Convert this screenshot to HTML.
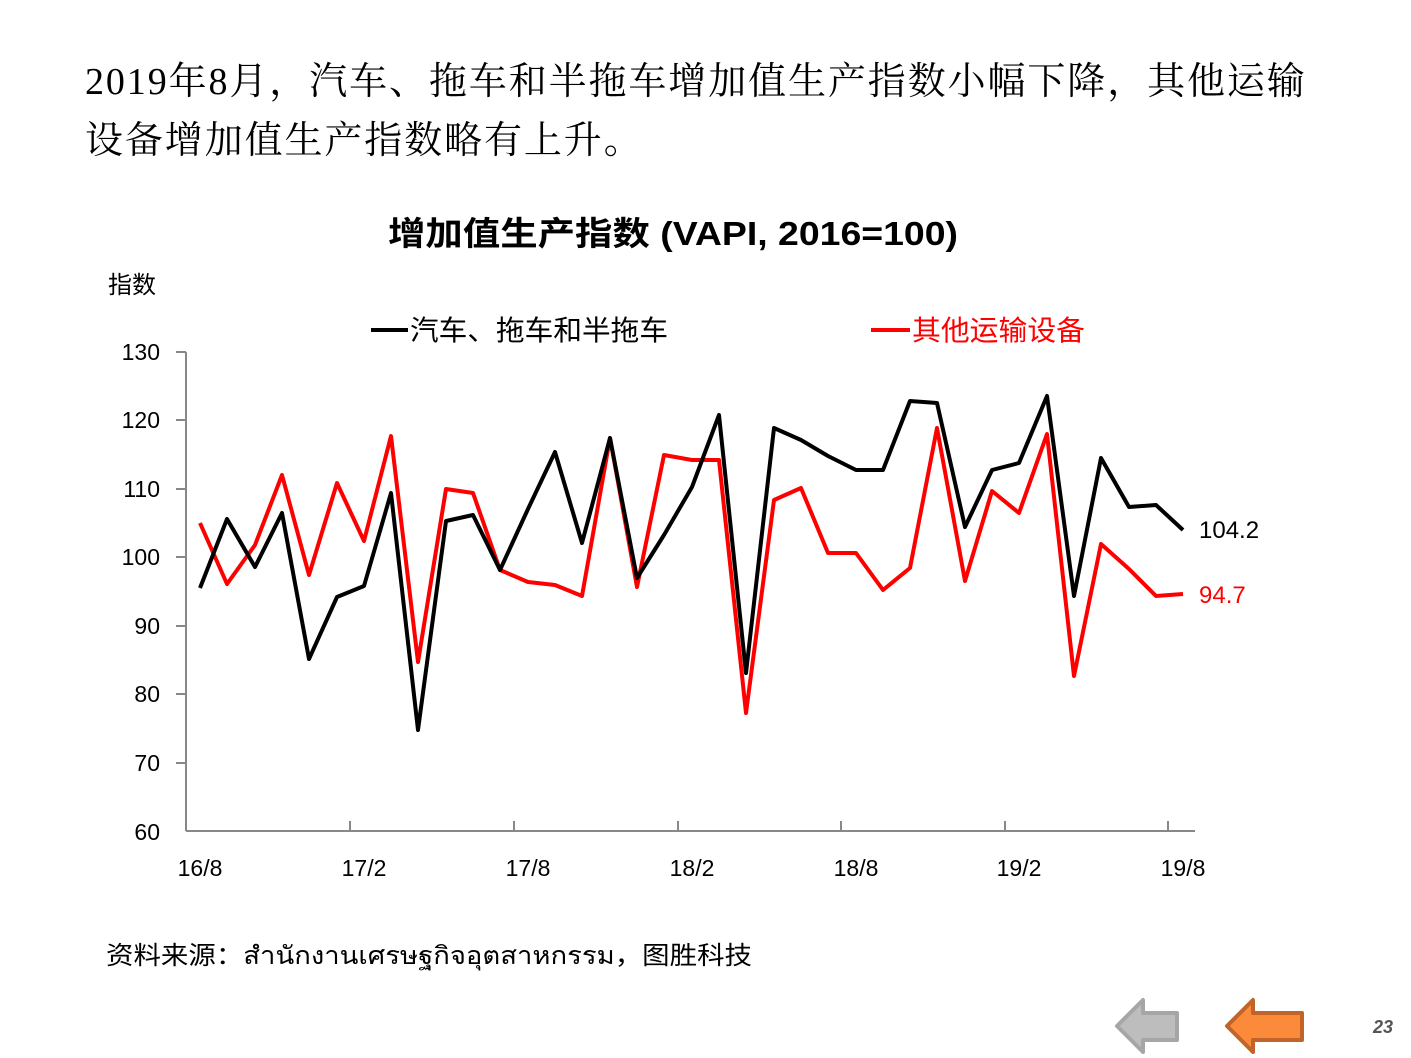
<!DOCTYPE html>
<html><head><meta charset="utf-8"><style>
body{margin:0;width:1411px;height:1058px;background:#fff;overflow:hidden;position:relative}
.t{position:absolute;left:85px;font-family:"Liberation Serif","Noto Serif CJK SC",serif;font-size:38px;color:#000;white-space:nowrap;letter-spacing:1.9px}
</style></head><body>
<div class="t" style="top:50px">2019年8月，汽车、拖车和半拖车增加值生产指数小幅下降，其他运输</div>
<div class="t" style="top:109px">设备增加值生产指数略有上升。</div>
<svg width="1411" height="1058" style="position:absolute;left:0;top:0" font-family="Liberation Sans, Noto Sans CJK SC, sans-serif">
<text x="388" y="245" font-size="33" font-weight="bold" textLength="570" lengthAdjust="spacingAndGlyphs">增加值生产指数 (VAPI, 2016=100)</text>
<text x="108" y="293" font-size="24">指数</text>
<line x1="371" y1="330" x2="408" y2="330" stroke="#000" stroke-width="4"/>
<text x="410" y="340" font-size="28" textLength="258" lengthAdjust="spacingAndGlyphs">汽车、拖车和半拖车</text>
<line x1="871" y1="330" x2="910" y2="330" stroke="#f00" stroke-width="4"/>
<text x="912" y="340" font-size="28" fill="#f00" textLength="173" lengthAdjust="spacingAndGlyphs">其他运输设备</text>
<g stroke="#888" stroke-width="2" fill="none">
<line x1="186" y1="352" x2="186" y2="831"/>
<line x1="186" y1="831" x2="1195" y2="831"/>
<line x1="176" y1="352" x2="186" y2="352"/><line x1="176" y1="420" x2="186" y2="420"/><line x1="176" y1="489" x2="186" y2="489"/><line x1="176" y1="557" x2="186" y2="557"/><line x1="176" y1="626" x2="186" y2="626"/><line x1="176" y1="694" x2="186" y2="694"/><line x1="176" y1="763" x2="186" y2="763"/>
<line x1="350" y1="821" x2="350" y2="831"/><line x1="514" y1="821" x2="514" y2="831"/><line x1="678" y1="821" x2="678" y2="831"/><line x1="841" y1="821" x2="841" y2="831"/><line x1="1005" y1="821" x2="1005" y2="831"/><line x1="1168" y1="821" x2="1168" y2="831"/>
</g>
<g font-size="23" text-anchor="end">
<text x="160" y="360">130</text><text x="160" y="428">120</text><text x="160" y="497">110</text><text x="160" y="565">100</text><text x="160" y="634">90</text><text x="160" y="702">80</text><text x="160" y="771">70</text><text x="160" y="840">60</text>
</g>
<g font-size="23" text-anchor="middle">
<text x="200" y="876">16/8</text><text x="364" y="876">17/2</text><text x="528" y="876">17/8</text><text x="692" y="876">18/2</text><text x="856" y="876">18/8</text><text x="1019" y="876">19/2</text><text x="1183" y="876">19/8</text>
</g>
<polyline fill="none" stroke="#f00" stroke-width="4" stroke-linejoin="round" points="200,523 227,584 255,545 282,475 309,575 337,483 364,541 391,436 418,662 446,489 473,493 500,570 528,582 555,585 582,596 610,438 637,587 664,455 692,460 719,460 746,713 774,500 801,488 828,553 856,553 883,590 910,568 937,428 965,581 992,491 1019,513 1047,434 1074,676 1101,544 1129,569 1156,596 1183,594"/>
<polyline fill="none" stroke="#000" stroke-width="4" stroke-linejoin="round" points="200,588 227,519 255,567 282,513 309,659 337,597 364,586 391,493 418,730 446,521 473,515 500,570 528,509 555,452 582,543 610,438 637,578 664,535 692,487 719,415 746,673 774,428 801,440 828,456 856,470 883,470 910,401 937,403 965,527 992,470 1019,463 1047,396 1074,596 1101,458 1129,507 1156,505 1183,530"/>
<text x="1199" y="538" font-size="24">104.2</text>
<text x="1199" y="603" font-size="24" fill="#f00">94.7</text>
<text x="106" y="964" font-size="25" textLength="646" lengthAdjust="spacingAndGlyphs">资料来源：สำนักงานเศรษฐกิจอุตสาหกรรม，图胜科技</text>
<polygon points="1117,1026 1143,1000 1143,1013 1177,1013 1177,1040 1143,1040 1143,1052" fill="#bdbdbd" stroke="#a6a6a6" stroke-width="4" stroke-linejoin="round"/>
<polygon points="1227,1026 1253,1000 1253,1013 1302,1013 1302,1040 1253,1040 1253,1052" fill="#fb8a3a" stroke="#c0642a" stroke-width="4" stroke-linejoin="round"/>
<text x="1393" y="1033" font-size="18" font-weight="bold" font-style="italic" fill="#555" text-anchor="end">23</text>
</svg>
</body></html>
